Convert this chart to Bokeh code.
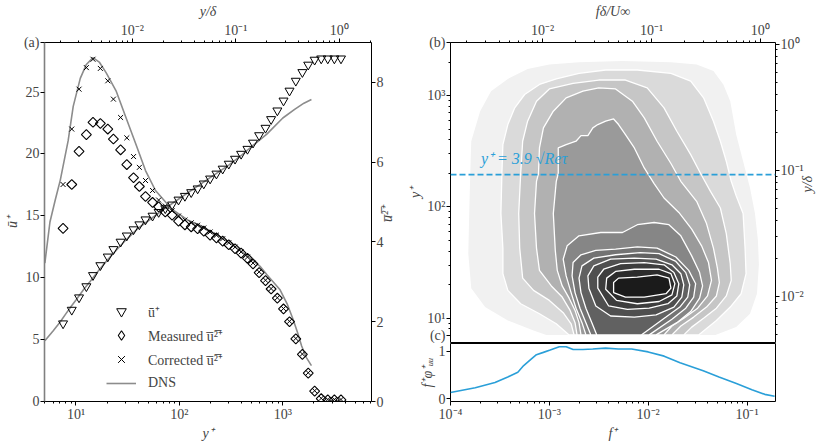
import math
from bokeh.plotting import figure
from bokeh.models import (Range1d, LinearAxis, LogAxis, LogScale, FixedTicker,
                          CustomJSTickFormatter, Legend, LegendItem, Label, Span)
from bokeh.layouts import row, column
from bokeh.embed import file_html
from bokeh.resources import INLINE

FONT = "Liberation Serif"
FS = "14px"
BLUE = "#2a9fd8"
DNS_GREY = "#8c8c8c"

# ---------------- panel (a) data ----------------
yplus = [7.5, 9.1, 10.7, 12.6, 14.6, 17.2, 20.3, 23, 27, 31, 36, 41, 47, 55, 63, 73, 85, 98,
         113, 130, 150, 172, 198, 228, 262, 300, 345, 395, 455, 515, 590, 680, 770, 885,
         1015, 1160, 1335, 1545, 1760, 2030, 2350, 2720, 3150, 3650]
u_plus = [6.3, 7.4, 8.4, 9.3, 10.2, 11.0, 11.7, 12.3, 12.9, 13.4, 13.9, 14.3, 14.7, 15.0,
          15.3, 15.6, 15.9, 16.3, 16.6, 16.9, 17.2, 17.6, 18.0, 18.4, 18.8, 19.2, 19.6,
          20.0, 20.4, 20.9, 21.5, 22.1, 22.8, 23.5, 24.3, 25.1, 25.9, 26.6, 27.2, 27.6,
          27.7, 27.7, 27.7, 27.7]
u2_measured = [4.34, 5.44, 6.27, 6.69, 7.0, 6.97, 6.83, 6.58, 6.31, 5.94, 5.61, 5.39, 5.14,
               4.99, 4.88, 4.75, 4.67, 4.52, 4.43, 4.38, 4.33, 4.27, 4.17, 4.10, 4.02, 3.93,
               3.83, 3.72, 3.59, 3.45, 3.23, 3.03, 2.82, 2.59, 2.32, 2.0, 1.57, 1.18, 0.71,
               0.26, 0.07, 0.04, 0.04, 0.04]
u2_corrected = [5.44, 6.83, 7.83, 8.37, 8.58, 8.35, 8.04, 7.58, 7.12, 6.61, 6.14, 5.87, 5.54,
                5.29, 5.05, 4.90, 4.78, 4.65, 4.55, 4.48, 4.42, 4.35, 4.25, 4.17, 4.08, 3.98,
                3.87, 3.75, 3.62, 3.47, 3.25, 3.04, 2.83, 2.60, 2.33, 2.01, 1.58, 1.19, 0.72,
                0.27, 0.08, 0.05, 0.05, 0.05]
dns_yplus = [5, 6, 7, 8, 9, 10, 12, 14, 17, 20, 25, 30, 40, 50, 70, 100, 150, 200, 300, 400,
             500, 700, 1000, 1300, 1600, 1890]
dns_u = [4.9, 5.7, 6.4, 7.1, 7.7, 8.2, 9.1, 9.8, 10.7, 11.4, 12.3, 13.0, 14.0, 14.6, 15.5,
         16.4, 17.4, 18.1, 19.1, 19.9, 20.6, 21.6, 22.9, 23.6, 24.1, 24.4]
dns2_yplus = [5, 5.6, 6.3, 7.05, 8.4, 9.4, 11, 12.6, 14.6, 16.9, 19.6, 24.4, 30.4, 37.8, 47,
              58.7, 84.5, 120, 163, 240, 339, 480, 607, 705, 940, 1100, 1260, 1400, 1520,
              1690, 1890]
dns2_u2 = [3.47, 4.5, 5.05, 5.55, 6.54, 7.4, 8.1, 8.45, 8.62, 8.5, 8.24, 7.79, 7.12, 6.46,
           5.79, 5.29, 4.82, 4.55, 4.4, 4.15, 3.9, 3.6, 3.38, 3.17, 2.8, 2.45, 2.05, 1.7,
           1.39, 1.1, 0.9]

# ---------------- panel (b): contour outlines, (log10 f+, log10 y+) ----------------
level_1 = [(-3.03, 0.85), (-3.16, 0.89), (-3.42, 0.98), (-3.65, 1.10), (-3.79, 1.27), (-3.82, 1.58),
           (-3.81, 1.96), (-3.80, 2.30), (-3.79, 2.59), (-3.70, 2.86), (-3.59, 3.04), (-3.42, 3.15),
           (-3.22, 3.24), (-3.00, 3.28), (-2.70, 3.30), (-2.26, 3.31), (-1.77, 3.30), (-1.51, 3.28),
           (-1.34, 3.22), (-1.24, 3.10), (-1.17, 2.95), (-1.11, 2.65), (-1.04, 2.41), (-0.97, 2.17),
           (-0.92, 1.94), (-0.89, 1.70), (-0.88, 1.48), (-0.90, 1.22), (-0.97, 1.04), (-1.11, 0.92),
           (-1.32, 0.85)]
level_2 = [(-2.80, 0.85), (-2.93, 0.95), (-3.10, 1.04), (-3.29, 1.13), (-3.42, 1.25), (-3.47, 1.40),
           (-3.47, 1.63), (-3.49, 1.94), (-3.48, 2.30), (-3.47, 2.56), (-3.42, 2.74), (-3.35, 2.89),
           (-3.25, 3.01), (-3.10, 3.10), (-2.93, 3.15), (-2.70, 3.20), (-2.43, 3.23), (-2.11, 3.23),
           (-1.77, 3.20), (-1.57, 3.13), (-1.44, 2.98), (-1.34, 2.77), (-1.27, 2.59), (-1.21, 2.41),
           (-1.16, 2.23), (-1.11, 2.10), (-1.04, 1.94), (-1.02, 1.63), (-1.01, 1.40), (-1.06, 1.22),
           (-1.17, 1.10), (-1.31, 0.98), (-1.49, 0.85)]
level_3 = [(-2.75, 0.85), (-2.78, 0.95), (-2.86, 1.05), (-3.00, 1.16), (-3.16, 1.25), (-3.27, 1.36),
           (-3.30, 1.63), (-3.31, 1.94), (-3.29, 2.30), (-3.27, 2.59), (-3.22, 2.77), (-3.13, 2.95),
           (-3.00, 3.06), (-2.76, 3.11), (-2.50, 3.14), (-2.23, 3.14), (-2.01, 3.07), (-1.84, 2.89),
           (-1.71, 2.68), (-1.57, 2.47), (-1.47, 2.30), (-1.37, 2.14), (-1.27, 1.99), (-1.21, 1.76),
           (-1.17, 1.49), (-1.16, 1.34), (-1.21, 1.20), (-1.31, 1.09), (-1.44, 1.00), (-1.56, 0.92),
           (-1.64, 0.85)]
level_4 = [(-2.72, 0.85), (-2.74, 0.96), (-2.79, 1.07), (-2.87, 1.19), (-2.98, 1.29), (-3.10, 1.43),
           (-3.13, 1.63), (-3.15, 1.94), (-3.13, 2.23), (-3.11, 2.30), (-3.10, 2.53), (-3.06, 2.71),
           (-2.96, 2.86), (-2.83, 2.98), (-2.66, 3.04), (-2.50, 3.07), (-2.33, 3.06), (-2.16, 2.95),
           (-2.04, 2.80), (-1.91, 2.59), (-1.77, 2.39), (-1.67, 2.23), (-1.51, 2.05), (-1.41, 1.85),
           (-1.34, 1.63), (-1.30, 1.45), (-1.28, 1.32), (-1.31, 1.20), (-1.41, 1.10), (-1.54, 1.01),
           (-1.67, 0.93), (-1.76, 0.85)]
level_5 = [(-2.68, 0.85), (-2.70, 0.96), (-2.74, 1.07), (-2.80, 1.18), (-2.87, 1.29), (-2.92, 1.43),
           (-2.94, 1.61), (-2.96, 1.94), (-2.93, 2.23), (-2.91, 2.30), (-2.91, 2.53), (-2.83, 2.56),
           (-2.73, 2.59), (-2.68, 2.64), (-2.61, 2.64), (-2.56, 2.71), (-2.51, 2.74), (-2.43, 2.77),
           (-2.35, 2.79), (-2.30, 2.74), (-2.23, 2.65), (-2.14, 2.53), (-2.04, 2.35), (-1.94, 2.21),
           (-1.84, 2.08), (-1.69, 1.95), (-1.56, 1.80), (-1.46, 1.65), (-1.39, 1.50), (-1.36, 1.34),
           (-1.40, 1.20), (-1.50, 1.09), (-1.64, 1.00), (-1.76, 0.93), (-1.84, 0.85)]
level_6 = [(-2.63, 0.85), (-2.67, 0.96), (-2.73, 1.09), (-2.78, 1.23), (-2.83, 1.38), (-2.86, 1.53),
           (-2.82, 1.65), (-2.70, 1.74), (-2.48, 1.77), (-2.26, 1.77), (-2.11, 1.84), (-1.94, 1.86),
           (-1.79, 1.84), (-1.67, 1.74), (-1.56, 1.56), (-1.48, 1.41), (-1.45, 1.29), (-1.48, 1.18),
           (-1.57, 1.06), (-1.71, 0.96), (-1.92, 0.85)]
level_7 = [(-2.58, 0.85), (-2.63, 0.96), (-2.69, 1.09), (-2.74, 1.23), (-2.77, 1.38), (-2.76, 1.50),
           (-2.68, 1.57), (-2.53, 1.61), (-2.33, 1.62), (-2.11, 1.64), (-1.91, 1.63), (-1.72, 1.55),
           (-1.59, 1.43), (-1.52, 1.31), (-1.54, 1.19), (-1.62, 1.09), (-1.76, 0.99), (-1.99, 0.85)]
level_8 = [(-2.52, 0.85), (-2.57, 0.96), (-2.63, 1.09), (-2.68, 1.23), (-2.70, 1.36), (-2.67, 1.47),
           (-2.55, 1.54), (-2.33, 1.57), (-2.08, 1.59), (-1.89, 1.58), (-1.72, 1.51), (-1.62, 1.41),
           (-1.58, 1.30), (-1.60, 1.19), (-1.68, 1.10), (-1.82, 1.01), (-2.07, 0.85)]
level_9 = [(-2.60, 1.27), (-2.61, 1.38), (-2.55, 1.47), (-2.38, 1.53), (-2.14, 1.54), (-1.92, 1.53),
           (-1.76, 1.48), (-1.67, 1.40), (-1.64, 1.30), (-1.66, 1.19), (-1.74, 1.10), (-1.92, 1.03),
           (-2.14, 1.01), (-2.38, 1.02), (-2.53, 1.11)]
level_10 = [(-2.51, 1.27), (-2.51, 1.37), (-2.45, 1.44), (-2.28, 1.49), (-2.04, 1.50), (-1.84, 1.48),
            (-1.74, 1.41), (-1.69, 1.31), (-1.71, 1.20), (-1.80, 1.13), (-1.99, 1.09), (-2.21, 1.08),
            (-2.40, 1.11)]
level_11 = [(-2.43, 1.26), (-2.42, 1.36), (-2.33, 1.42), (-2.14, 1.44), (-1.89, 1.44), (-1.77, 1.40),
            (-1.73, 1.31), (-1.76, 1.21), (-1.89, 1.15), (-2.11, 1.13), (-2.32, 1.16)]
level_12 = [(-2.35, 1.32), (-2.30, 1.36), (-2.11, 1.37), (-1.91, 1.39), (-1.79, 1.36), (-1.77, 1.27),
            (-1.82, 1.22), (-2.04, 1.19), (-2.23, 1.19), (-2.35, 1.23)]
levels = [level_1, level_2, level_3, level_4, level_5, level_6, level_7, level_8, level_9,
          level_10, level_11, level_12]
level_colors = ["#f1f1f1", "#dadada", "#c6c6c6", "#b1b1b1", "#9a9a9a", "#868686", "#737373",
                "#616161", "#4f4f4f", "#3d3d3d", "#2c2c2c", "#1b1b1b"]
y_marker = 195  # y+ = 3.9 sqrt(Re_tau)

# ---------------- panel (c) data ----------------
spec_f = [1.0e-4, 1.78e-4, 2.82e-4, 3.8e-4, 4.8e-4, 5.5e-4, 6.5e-4, 7.4e-4, 8.7e-4, 1.02e-3,
          1.26e-3, 1.48e-3, 1.74e-3, 2.19e-3, 2.75e-3, 3.7e-3, 5.0e-3, 6.8e-3, 1.0e-2,
          1.45e-2, 2.1e-2, 3.6e-2, 5.2e-2, 7.8e-2, 0.112, 0.151, 0.19]
spec_v = [0.13, 0.23, 0.34, 0.46, 0.56, 0.70, 0.83, 0.93, 0.98, 1.03, 1.10, 1.10, 1.04, 1.04,
          1.05, 1.07, 1.05, 1.05, 0.99, 0.90, 0.76, 0.59, 0.46, 0.32, 0.19, 0.09, 0.05]

# ---------------- helpers ----------------
MINOR = [m * 10.0 ** e for e in range(-6, 5) for m in range(2, 10)]
SUP = """
const sup = {"-": "\u207b", "0": "\u2070", "1": "\u00b9", "2": "\u00b2", "3": "\u00b3",
             "4": "\u2074", "5": "\u2075", "6": "\u2076", "7": "\u2077", "8": "\u2078", "9": "\u2079"};
function pow10(t) {
  const e = Math.round(Math.log10(t));
  return "10" + String(e).split("").map((c) => sup[c]).join("");
}
"""


def log_fmt(extra=""):
    return CustomJSTickFormatter(code=SUP + extra + "\nreturn pow10(tick);")


def style(ax, title=None, italic=True, line_color=None, line_width=1, vertical_flip=False):
    ax.major_tick_in = 0
    ax.major_tick_out = 4
    ax.minor_tick_in = 0
    ax.minor_tick_out = 2
    ax.major_tick_line_color = "black"
    ax.minor_tick_line_color = "black"
    ax.major_label_text_font = FONT
    ax.major_label_text_font_size = FS
    ax.major_label_standoff = 1
    ax.axis_line_color = line_color
    ax.axis_line_width = line_width
    if title is not None:
        ax.axis_label = title
        ax.axis_label_text_font = FONT
        ax.axis_label_text_font_size = FS
        ax.axis_label_text_font_style = "italic" if italic else "normal"
        ax.axis_label_standoff = 1
        if vertical_flip:
            try:
                ax.axis_label_orientation = math.pi / 2
            except Exception:
                pass
    return ax


def base_fig(**kw):
    p = figure(x_axis_location=None, y_axis_location=None, output_backend="svg",
               toolbar_location=None, **kw)
    p.grid.visible = False
    p.outline_line_color = "black"
    p.outline_line_width = 1
    return p


FW_A = 327  # frame width of panel (a)
FW_B = 325  # frame width of panels (b) and (c)

# ---------------- panel (a) ----------------
p_a = base_fig(x_axis_type="log", x_range=Range1d(4.96, 7200), y_range=Range1d(0, 29),
               frame_width=FW_A, frame_height=359, min_border_left=44, min_border_right=28,
               min_border_top=41, min_border_bottom=43)
p_a.extra_x_ranges = {"top": Range1d(1.41e-3, 2.05)}
p_a.extra_x_scales = {"top": LogScale()}
p_a.extra_y_ranges = {"u2": Range1d(0, 9)}

p_a.add_layout(style(LogAxis(ticker=FixedTicker(ticks=[10, 100, 1000], minor_ticks=MINOR),
                             formatter=log_fmt()), "y\u207a"), "below")
p_a.add_layout(style(LogAxis(x_range_name="top",
                             ticker=FixedTicker(ticks=[0.01, 0.1, 1.0], minor_ticks=MINOR),
                             formatter=log_fmt()), "y/\u03b4"), "above")
p_a.add_layout(style(LinearAxis(ticker=FixedTicker(ticks=[0, 5, 10, 15, 20, 25, 29]),
                                formatter=CustomJSTickFormatter(
                                    code='return tick > 28 ? "(a)" : String(tick);')),
                     "\u016b\u207a", line_color="#808080", line_width=1.6), "left")
p_a.add_layout(style(LinearAxis(y_range_name="u2", ticker=FixedTicker(ticks=[0, 2, 4, 6, 8])),
                     "u\u0305\u00b2\u0305\u207a", vertical_flip=True), "right")

r_dns_u = p_a.line(dns_yplus, dns_u, line_color=DNS_GREY, line_width=1.6)
p_a.line(dns2_yplus, dns2_u2, line_color=DNS_GREY, line_width=1.6, y_range_name="u2")
r_tri = p_a.scatter(yplus, u_plus, marker="inverted_triangle", size=9, line_color="black",
                    fill_color=None, line_width=1)
p_a.scatter(yplus, u2_measured, marker="square", angle=math.pi / 4, size=7,
            line_color="black", fill_color=None, line_width=1.1, y_range_name="u2")
r_x = p_a.scatter(yplus, u2_corrected, marker="x", size=7, line_color="black", line_width=1,
                  y_range_name="u2")
# zero-size diamond renderer over the same series: supplies the legend swatch only
r_dia_key = p_a.scatter(yplus, u2_measured, marker="diamond", size=0, line_color="black",
                        fill_color=None, line_width=1.1, y_range_name="u2")

legend = Legend(items=[LegendItem(label="\u016b\u207a", renderers=[r_tri]),
                       LegendItem(label="Measured u\u0305\u00b2\u0305\u207a", renderers=[r_dia_key]),
                       LegendItem(label="Corrected u\u0305\u00b2\u0305\u207a", renderers=[r_x]),
                       LegendItem(label="DNS", renderers=[r_dns_u])],
                location=(62, 6), padding=0, margin=0, border_line_color=None,
                background_fill_alpha=0, label_text_font=FONT, label_text_font_size=FS,
                glyph_width=30, glyph_height=24, spacing=0, label_standoff=12)
p_a.add_layout(legend)

# ---------------- panel (b) ----------------
XR = Range1d(1e-4, 0.194)
p_b = base_fig(x_axis_type="log", y_axis_type="log", x_range=XR, y_range=Range1d(6.05, 3000),
               frame_width=FW_B, frame_height=300, min_border_left=38, min_border_right=50,
               min_border_top=41, min_border_bottom=1)
p_b.extra_x_ranges = {"top": Range1d(1.42e-3, 1.38)}
p_b.extra_x_scales = {"top": LogScale()}
p_b.extra_y_ranges = {"yd": Range1d(0.00433, 1.03)}
p_b.extra_y_scales = {"yd": LogScale()}

p_b.add_layout(style(LogAxis(x_range_name="top",
                             ticker=FixedTicker(ticks=[0.01, 0.1, 1.0], minor_ticks=MINOR),
                             formatter=log_fmt()), "f\u03b4/U\u221e"), "above")
b_left_extra = ('if (tick > 2500) return "(b)";\n'
                'if (tick > 6.5 && tick < 7.5) return "(c)";')
p_b.add_layout(style(LogAxis(ticker=FixedTicker(ticks=[7, 10, 100, 1000, 3000], minor_ticks=MINOR),
                             formatter=log_fmt(b_left_extra)), "y\u207a"), "left")
p_b.add_layout(style(LogAxis(y_range_name="yd",
                             ticker=FixedTicker(ticks=[0.01, 0.1, 1.0], minor_ticks=MINOR),
                             formatter=log_fmt()), "y/\u03b4", vertical_flip=True), "right")

xs = [[10 ** a for a, b in lv] for lv in levels]
ys = [[10 ** b for a, b in lv] for lv in levels]
p_b.patches(xs[:1], ys[:1], fill_color=level_colors[:1], line_color=None)
p_b.patches(xs[1:], ys[1:], fill_color=level_colors[1:], line_color="white", line_width=1.3)

p_b.add_layout(Span(location=y_marker, dimension="width", line_color=BLUE, line_width=1.6,
                    line_dash="6 3"))
p_b.add_layout(Label(x=2.03e-4, y=275, text="y\u207a = 3.9 \u221aRe\u03c4", text_color=BLUE,
                     text_font=FONT, text_font_size="16px", text_font_style="italic",
                     text_align="left", text_baseline="middle"))

# ---------------- panel (c) ----------------
p_c = base_fig(x_axis_type="log", x_range=XR, y_range=Range1d(-0.061, 1.168),
               frame_width=FW_B, frame_height=58, min_border_left=38, min_border_right=50,
               min_border_top=0, min_border_bottom=43)
p_c.add_layout(style(LogAxis(ticker=FixedTicker(ticks=[1e-4, 1e-3, 1e-2, 1e-1], minor_ticks=MINOR),
                             formatter=log_fmt()), "f\u207a"), "below")
p_c.add_layout(style(LinearAxis(ticker=FixedTicker(ticks=[0, 1])),
                     "f\u207a\u03c6\u207a\u1d64\u1d64"), "left")
p_c.line(spec_f, spec_v, line_color=BLUE, line_width=1.6)

layout = row(p_a, column(p_b, p_c))
open("out.html", "w", encoding="utf-8").write(file_html(layout, INLINE))
